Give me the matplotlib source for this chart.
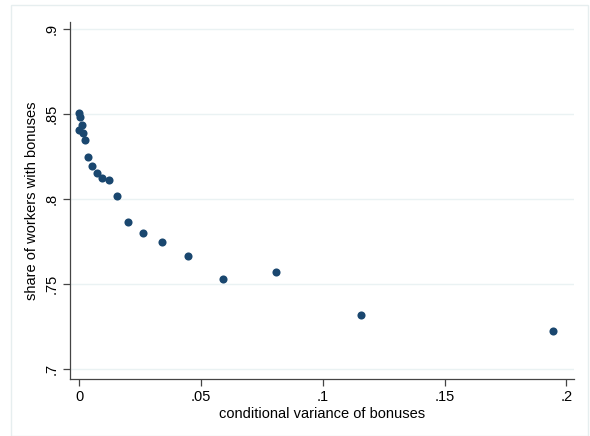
import matplotlib

matplotlib.use("Agg")
import matplotlib.pyplot as plt
from matplotlib.patches import Rectangle

# conditional variance of bonuses vs share of workers with bonuses
variance = [0.0000, 0.0003, 0.0009, 0.0000, 0.0014, 0.0024, 0.0036, 0.0051,
            0.0071, 0.0092, 0.0121, 0.0155, 0.0201, 0.0260, 0.0338, 0.0445,
            0.0591, 0.0807, 0.1157, 0.1947]
share = [0.8508, 0.8481, 0.8434, 0.8404, 0.8386, 0.8345, 0.8247, 0.8194,
         0.8155, 0.8122, 0.8110, 0.8016, 0.7865, 0.7798, 0.7747, 0.7666,
         0.7528, 0.7569, 0.7318, 0.7225]

x_ticks = [0, 0.05, 0.1, 0.15, 0.2]
x_labels = ["0", ".05", ".1", ".15", ".2"]
y_ticks = [0.7, 0.75, 0.8, 0.85, 0.9]
y_labels = [".7", ".75", ".8", ".85", ".9"]

plt.rcParams["font.family"] = ["Liberation Sans", "DejaVu Sans"]

W, H = 590, 436
fig = plt.figure(figsize=(W / 100, H / 100), dpi=100)
fig.patches.append(Rectangle((11 / W, 0), (588 - 11) / W, 1 - 5 / H,
                             transform=fig.transFigure, fill=False,
                             edgecolor="#e6eeef", lw=1.0))

ax = fig.add_axes([70 / W, 1 - 379 / H, (574 - 70) / W, (379 - 22) / H])
ax.scatter(variance, share, s=34, color="#1a476f", zorder=3, linewidths=0)

ax.set_xlim(-0.0039, 0.2032)
ax.set_ylim(0.6941, 0.9041)
ax.set_xticks(x_ticks, x_labels)
ax.set_yticks(y_ticks, y_labels, rotation=90, va="center")
for y in y_ticks:
    ax.axhline(y, color="#eaf2f3", lw=1.0, zorder=1)

for side in ("top", "right"):
    ax.spines[side].set_visible(False)
for side in ("left", "bottom"):
    ax.spines[side].set_color("#444444")
    ax.spines[side].set_linewidth(0.9)
ax.tick_params(direction="out", length=5, width=0.9, color="#444444",
               labelsize=10.5, pad=3)

ax.set_xlabel("conditional variance of bonuses", fontsize=10.5, labelpad=2)
ax.set_ylabel("share of workers with bonuses", fontsize=10.5, labelpad=4)

fig.savefig("out.png", dpi=100)
